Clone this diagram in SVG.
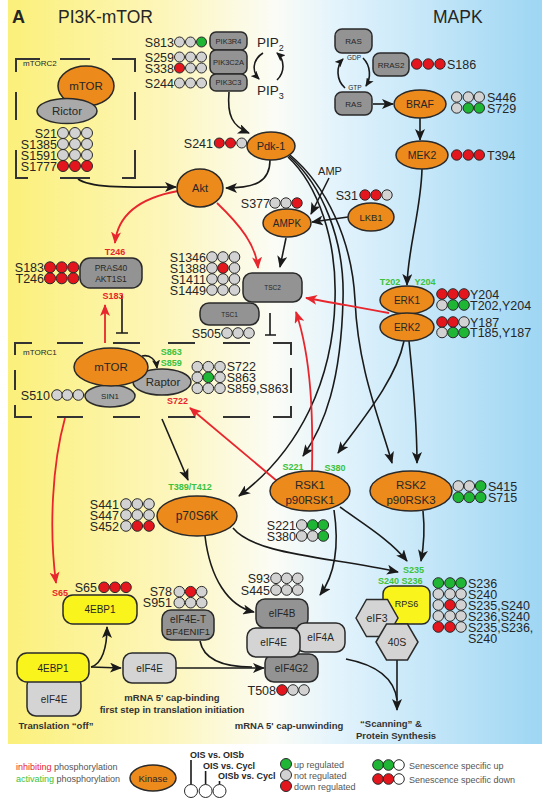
<svg xmlns="http://www.w3.org/2000/svg" width="547" height="798" viewBox="0 0 547 798">
<defs>
<linearGradient id="bg" x1="0" y1="0" x2="1" y2="0">
<stop offset="0" stop-color="#fbf07a"/>
<stop offset="0.3" stop-color="#fdf6bc"/>
<stop offset="0.5" stop-color="#fbfcf6"/>
<stop offset="0.62" stop-color="#e2f3fc"/>
<stop offset="1" stop-color="#9ed6f3"/>
</linearGradient>
<marker id="ab" viewBox="0 0 12 10" refX="11" refY="5" markerWidth="12" markerHeight="10" markerUnits="userSpaceOnUse" orient="auto"><path d="M0,0 L12,5 L0,10 L3,5 z" fill="#1a1a1a"/></marker>
<marker id="ar" viewBox="0 0 12 10" refX="11" refY="5" markerWidth="12" markerHeight="10" markerUnits="userSpaceOnUse" orient="auto"><path d="M0,0 L12,5 L0,10 L3,5 z" fill="#e8262d"/></marker>
<marker id="as" viewBox="0 0 9 8" refX="8" refY="4" markerWidth="9" markerHeight="8" markerUnits="userSpaceOnUse" orient="auto"><path d="M0,0 L9,4 L0,8 L2,4 z" fill="#1a1a1a"/></marker>
</defs>
<style>
text{font-family:"Liberation Sans",Arial,Helvetica,sans-serif;fill:#262626}
.n{text-anchor:middle}
.e{text-anchor:end}
.s{font-size:12.5px}
.k{fill:#ec8a1c;stroke:#2a2a2a;stroke-width:1.5}
.g{fill:#939393;stroke:#2a2a2a;stroke-width:1.5}
.m{fill:#a9a9a9;stroke:#2a2a2a;stroke-width:1.5}
.l{fill:#d4d4d4;stroke:#2a2a2a;stroke-width:1.5}
.y{fill:#f9f41c;stroke:#2a2a2a;stroke-width:1.5}
.c0,.c1,.c2,.c3{stroke:#2a2a2a;stroke-width:1}
.c0{fill:#d2d2d2}.c1{fill:#e3161e}.c2{fill:#1fb535}.c3{fill:#fff}
.gl{fill:#3cc23c;font-weight:bold;font-size:9px}
.rl{fill:#e8262d;font-weight:bold;font-size:9px}
.ln{fill:none;stroke:#1a1a1a;stroke-width:1.6}
.rd{fill:none;stroke:#e8262d;stroke-width:1.8}
.bx{fill:none;stroke:#333;stroke-width:2}
.lt{font-size:9px;fill:#555}
.bt{font-size:9.5px;font-weight:bold;text-anchor:middle;fill:#333}
</style>
<rect x="8" y="0" width="534" height="744" fill="url(#bg)"/>
<text x="12" y="23" font-weight="bold" font-size="18">A</text>
<text x="58" y="23" font-size="17.5">PI3K-mTOR</text>
<text x="433" y="23" font-size="17.5">MAPK</text>

<g id="connectors">
<path class="ln" marker-end="url(#ab)" d="M229,92 C227,115 232,126 249,133"/>
<path class="ln" marker-end="url(#as)" d="M263,53 C252,60 252,72 259,79"/>
<path class="ln" marker-end="url(#as)" d="M277,80 C285,72 285,60 277,53"/>
<path class="ln" marker-end="url(#as)" d="M345,88 C336,80 336,66 343,59"/>
<path class="ln" marker-end="url(#as)" d="M363,58 C371,66 371,78 366,86"/>
<path class="ln" marker-end="url(#ab)" d="M78,179 C92,189 135,187 176,187"/>
<path class="ln" marker-end="url(#ab)" d="M270,160 C270,182 255,188 226,188"/>
<path class="ln" marker-end="url(#ab)" d="M288,157 C318,185 337,240 335,300 C333,380 300,450 239,496"/>
<path class="ln" marker-end="url(#ab)" d="M289,156 C322,185 345,240 343,300 C341,380 325,425 303,456"/>
<path class="ln" marker-end="url(#ab)" d="M290,155 C326,185 352,240 355,300 C358,370 380,420 392,463"/>
<path class="ln" marker-end="url(#ab)" d="M329,178 L311,214"/>
<path class="ln" marker-end="url(#ab)" d="M348,217 L312,222"/>
<path class="ln" marker-end="url(#ab)" d="M286,238 L280,267"/>
<path class="ln" marker-end="url(#ab)" d="M373,104 L393,104"/>
<path class="ln" marker-end="url(#ab)" d="M420,118 L420,140"/>
<path class="ln" marker-end="url(#ab)" d="M422,169 C421,210 408,248 407,285"/>
<path class="ln" marker-end="url(#ab)" d="M404,341 C396,380 362,420 338,453"/>
<path class="ln" marker-end="url(#ab)" d="M409,341 C413,380 417,420 417,463"/>
<path class="ln" marker-end="url(#ab)" d="M162,419 L188,480"/>
<path class="ln" marker-end="url(#as)" d="M142,356 C150,354 156,360 157,368"/>
<path class="ln" marker-end="url(#ab)" d="M205,536 C210,578 228,606 254,612"/>
<path class="ln" marker-end="url(#ab)" d="M233,528 C255,555 330,557 398,572"/>
<path class="ln" marker-end="url(#ab)" d="M334,510 C340,550 334,576 320,595"/>
<path class="ln" marker-end="url(#ab)" d="M340,507 C365,525 390,540 407,561"/>
<path class="ln" marker-end="url(#ab)" d="M423,511 C425,530 424,545 421,561"/>
<path class="ln" marker-end="url(#ab)" d="M91,667 L121,668"/>
<path class="ln" marker-end="url(#ab)" d="M91,667 C102,664 107,648 107,627"/>
<path class="ln" marker-end="url(#ab)" d="M176,668 L264,668"/>
<path class="ln" d="M200,641 C204,662 228,667 252,667"/>
<path class="ln" marker-end="url(#ab)" d="M397,660 L397,710"/>
<path class="ln" d="M346,659 C372,664 394,676 397,700"/>
<path class="ln" d="M122,295 V333 M116,333 H128"/>
<path class="ln" d="M270,313 V335 M265,335 H276"/>
<path class="rd" marker-end="url(#ar)" d="M178,191 C145,197 118,212 115,243"/>
<path class="rd" marker-end="url(#ar)" d="M217,203 C240,225 256,245 258,268"/>
<path class="rd" marker-end="url(#ar)" d="M105,343 L105,305"/>
<path class="rd" marker-end="url(#ar)" d="M389,313 C360,308 330,302 306,298"/>
<path class="rd" marker-end="url(#ar)" d="M312,472 C313,420 312,360 296,312"/>
<path class="rd" marker-end="url(#ar)" d="M277,481 L190,408"/>
<path class="rd" marker-end="url(#ar)" d="M65,418 C52,465 49,530 56,583"/>
</g>

<g id="mTORC2">
<path class="bx" d="M16,72 V59 H40 M60,59 H90 M112,59 H135 V72 M135,92 V120 M135,150 V178 H122 M90,178 H60 M28,178 H16 V150 M16,92 V120"/>
<text x="23" y="66" font-size="8">mTORC2</text>
<ellipse class="k" cx="86" cy="86" rx="28" ry="20"/>
<text class="n" x="86" y="90" font-size="11.5">mTOR</text>
<ellipse class="m" cx="67" cy="111" rx="30" ry="12.5"/>
<text class="n" x="67" y="115" font-size="11.5">Rictor</text>
<text class="s e" x="57" y="137.5">S21</text>
<text class="s e" x="57" y="148.5">S1385</text>
<text class="s e" x="57" y="159.5">S1591</text>
<text class="s e" x="57" y="170.5">S1777</text>
<circle class="c0" cx="63" cy="133" r="5.5"/><circle class="c0" cx="75" cy="133" r="5.5"/><circle class="c0" cx="87" cy="133" r="5.5"/>
<circle class="c0" cx="63" cy="144" r="5.5"/><circle class="c0" cx="75" cy="144" r="5.5"/><circle class="c0" cx="87" cy="144" r="5.5"/>
<circle class="c0" cx="63" cy="155" r="5.5"/><circle class="c0" cx="75" cy="155" r="5.5"/><circle class="c0" cx="87" cy="155" r="5.5"/>
<circle class="c1" cx="63" cy="166" r="5.5"/><circle class="c1" cx="75" cy="166" r="5.5"/><circle class="c1" cx="87" cy="166" r="5.5"/>
</g>

<g id="PI3K">
<rect class="g" x="210" y="32" width="37" height="18" rx="6"/>
<rect class="g" x="210" y="50" width="37" height="24" rx="6"/>
<rect class="g" x="210" y="74" width="37" height="17" rx="6"/>
<text class="n" x="228.5" y="44" font-size="7.5">PIK3R4</text>
<text class="n" x="228.5" y="65" font-size="7.5">PIK3C2A</text>
<text class="n" x="228.5" y="85" font-size="7.5">PIK3C3</text>
<text class="s e" x="174" y="46.5">S813</text>
<text class="s e" x="174" y="61.5">S259</text>
<text class="s e" x="174" y="72.5">S338</text>
<text class="s e" x="174" y="87.5">S244</text>
<circle class="c0" cx="179.5" cy="42" r="5"/><circle class="c0" cx="190.5" cy="42" r="5"/><circle class="c2" cx="201.5" cy="42" r="5"/>
<circle class="c0" cx="179.5" cy="57" r="5"/><circle class="c0" cx="190.5" cy="57" r="5"/><circle class="c0" cx="201.5" cy="57" r="5"/>
<circle class="c1" cx="179.5" cy="68" r="5"/><circle class="c0" cx="190.5" cy="68" r="5"/><circle class="c0" cx="201.5" cy="68" r="5"/>
<circle class="c0" cx="179.5" cy="83" r="5"/><circle class="c0" cx="190.5" cy="83" r="5"/><circle class="c0" cx="201.5" cy="83" r="5"/>
</g>
<g id="PIP">
<text x="257" y="47" font-size="13.5">PIP<tspan font-size="9" dy="4">2</tspan></text>
<text x="257" y="95" font-size="13.5">PIP<tspan font-size="9" dy="4">3</tspan></text>
</g>

<g id="Pdk1">
<ellipse class="k" cx="271" cy="146" rx="24" ry="14"/>
<text class="n" x="271" y="150" font-size="11">Pdk-1</text>
<text class="s e" x="213" y="147.5">S241</text>
<circle class="c1" cx="219.3" cy="143" r="5"/><circle class="c1" cx="230.5" cy="143" r="5"/><circle class="c0" cx="241.7" cy="143" r="5"/>
</g>

<g id="RAS">
<rect class="g" x="335" y="29" width="37" height="24" rx="7"/>
<text class="n" x="353.5" y="44" font-size="8">RAS</text>
<rect class="g" x="335" y="92" width="37" height="23" rx="7"/>
<text class="n" x="353.5" y="106.5" font-size="8">RAS</text>
<text class="n" x="354" y="60" font-size="6.5">GDP</text>
<text class="n" x="355" y="89.5" font-size="6.5">GTP</text>
</g>
<g id="RRAS2">
<rect class="g" x="373" y="53" width="36" height="23" rx="7"/>
<text class="n" x="391" y="67.5" font-size="8">RRAS2</text>
<circle class="c1" cx="416.7" cy="64" r="5.2"/><circle class="c1" cx="428.3" cy="64" r="5.2"/><circle class="c1" cx="440" cy="64" r="5.2"/>
<text class="s" x="447" y="68.5">S186</text>
</g>
<g id="BRAF">
<ellipse class="k" cx="420" cy="104" rx="26" ry="14"/>
<text class="n" x="420" y="108" font-size="10.5">BRAF</text>
<circle class="c0" cx="456.7" cy="97" r="5.2"/><circle class="c0" cx="468.3" cy="97" r="5.2"/><circle class="c0" cx="479.3" cy="97" r="5.2"/>
<circle class="c0" cx="456.7" cy="108" r="5.2"/><circle class="c2" cx="468.3" cy="108" r="5.2"/><circle class="c2" cx="479.3" cy="108" r="5.2"/>
<text class="s" x="487" y="101.5">S446</text>
<text class="s" x="487" y="112.5">S729</text>
</g>
<g id="MEK2">
<ellipse class="k" cx="422" cy="155" rx="26" ry="14"/>
<text class="n" x="422" y="159" font-size="10.5">MEK2</text>
<circle class="c1" cx="456.7" cy="155" r="5.2"/><circle class="c1" cx="468.3" cy="155" r="5.2"/><circle class="c1" cx="479.3" cy="155" r="5.2"/>
<text class="s" x="487" y="159.5">T394</text>
</g>

<g id="Akt">
<ellipse class="k" cx="200" cy="188" rx="23" ry="19"/>
<text class="n" x="200" y="192" font-size="11">Akt</text>
</g>
<g id="AMPK">
<text class="n" x="330" y="175" font-size="11">AMP</text>
<ellipse class="k" cx="287" cy="223" rx="24" ry="14"/>
<text class="n" x="287" y="226.5" font-size="10">AMPK</text>
<text class="s e" x="270" y="207.5">S377</text>
<circle class="c0" cx="275" cy="203" r="5.2"/><circle class="c0" cx="286" cy="203" r="5.2"/><circle class="c1" cx="297" cy="203" r="5.2"/>
</g>
<g id="LKB1">
<ellipse class="k" cx="371" cy="217" rx="23" ry="14"/>
<text class="n" x="371" y="220.5" font-size="9.5">LKB1</text>
<text class="s e" x="358" y="199.5">S31</text>
<circle class="c1" cx="365" cy="195" r="5.2"/><circle class="c1" cx="376" cy="195" r="5.2"/><circle class="c0" cx="387" cy="195" r="5.2"/>
</g>

<g id="PRAS40">
<rect class="g" x="80" y="258" width="62" height="30" rx="10"/>
<text class="n" x="111" y="271" font-size="8.5">PRAS40</text>
<text class="n" x="111" y="282" font-size="8.5">AKT1S1</text>
<text class="rl n" x="115" y="255">T246</text>
<text class="rl n" x="113" y="299">S183</text>
<text class="s e" x="44" y="271.5">S183</text>
<text class="s e" x="44" y="282.5">T246</text>
<circle class="c1" cx="50" cy="267.3" r="5.5"/><circle class="c1" cx="61.7" cy="267.3" r="5.5"/><circle class="c1" cx="73.3" cy="267.3" r="5.5"/>
<circle class="c1" cx="50" cy="278.3" r="5.5"/><circle class="c1" cx="61.7" cy="278.3" r="5.5"/><circle class="c1" cx="73.3" cy="278.3" r="5.5"/>
</g>

<g id="TSC">
<rect class="g" x="243" y="273" width="59" height="29" rx="9"/>
<text class="n" x="272.5" y="289.5" font-size="6.5">TSC2</text>
<rect class="g" x="200" y="303" width="59" height="22" rx="9"/>
<text class="n" x="229.5" y="316.5" font-size="6.5">TSC1</text>
<text class="s e" x="206" y="261.5">S1346</text>
<text class="s e" x="206" y="272.5">S1388</text>
<text class="s e" x="206" y="283.5">S1411</text>
<text class="s e" x="206" y="294.5">S1449</text>
<circle class="c0" cx="212" cy="257" r="5.3"/><circle class="c0" cx="223" cy="257" r="5.3"/><circle class="c0" cx="234.5" cy="257" r="5.3"/>
<circle class="c0" cx="212" cy="268" r="5.3"/><circle class="c1" cx="223" cy="268" r="5.3"/><circle class="c0" cx="234.5" cy="268" r="5.3"/>
<circle class="c0" cx="212" cy="279" r="5.3"/><circle class="c0" cx="223" cy="279" r="5.3"/><circle class="c0" cx="234.5" cy="279" r="5.3"/>
<circle class="c0" cx="212" cy="290" r="5.3"/><circle class="c0" cx="223" cy="290" r="5.3"/><circle class="c0" cx="234.5" cy="290" r="5.3"/>
<text class="s e" x="221" y="337.5">S505</text>
<circle class="c0" cx="227" cy="333" r="5.3"/><circle class="c0" cx="238" cy="333" r="5.3"/><circle class="c0" cx="249" cy="333" r="5.3"/>
</g>

<g id="ERK">
<ellipse class="k" cx="407" cy="300" rx="27" ry="14"/>
<ellipse class="k" cx="407" cy="327" rx="27" ry="14"/>
<text class="n" x="407" y="303.5" font-size="10">ERK1</text>
<text class="n" x="407" y="330.5" font-size="10">ERK2</text>
<text class="gl n" x="390" y="285">T202</text>
<text class="gl n" x="425" y="285">Y204</text>
<circle class="c1" cx="442" cy="294" r="5.3"/><circle class="c1" cx="453" cy="294" r="5.3"/><circle class="c1" cx="464" cy="294" r="5.3"/>
<circle class="c0" cx="442" cy="305" r="5.3"/><circle class="c2" cx="453" cy="305" r="5.3"/><circle class="c2" cx="464" cy="305" r="5.3"/>
<circle class="c1" cx="442" cy="322" r="5.3"/><circle class="c1" cx="453" cy="322" r="5.3"/><circle class="c0" cx="464" cy="322" r="5.3"/>
<circle class="c0" cx="442" cy="332.5" r="5.3"/><circle class="c2" cx="453" cy="332.5" r="5.3"/><circle class="c2" cx="464" cy="332.5" r="5.3"/>
<text class="s" x="470" y="298.5">Y204</text>
<text class="s" x="470" y="309.5">T202,Y204</text>
<text class="s" x="470" y="326.5">Y187</text>
<text class="s" x="470" y="337">T185,Y187</text>
</g>

<g id="mTORC1">
<path class="bx" d="M15,355 V343 H32 M57,343 H83 M113,343 H140 M168,343 H195 M223,343 H250 M273,343 H291 V355 M291,368 V393 M291,406 V417 H273 M250,417 H223 M195,417 H168 M140,417 H113 M83,417 H57 M32,417 H15 V405 M15,370 V390"/>
<text x="23" y="355" font-size="8">mTORC1</text>
<ellipse class="m" cx="110" cy="396" rx="25" ry="11"/>
<ellipse class="m" cx="162" cy="382" rx="29" ry="13"/>
<ellipse class="k" cx="111" cy="367" rx="37" ry="19"/>
<text class="n" x="111" y="371" font-size="11.5">mTOR</text>
<text class="n" x="110" y="399" font-size="8">SIN1</text>
<text class="n" x="163" y="386" font-size="11.5">Raptor</text>
<text class="gl" x="160.7" y="355">S863</text>
<text class="gl" x="160.7" y="366">S859</text>
<text class="rl" x="167" y="404">S722</text>
<circle class="c0" cx="197.3" cy="366.7" r="5.3"/><circle class="c0" cx="208.3" cy="366.7" r="5.3"/><circle class="c0" cx="220" cy="366.7" r="5.3"/>
<circle class="c0" cx="197.3" cy="377.3" r="5.3"/><circle class="c2" cx="208.3" cy="377.3" r="5.3"/><circle class="c0" cx="220" cy="377.3" r="5.3"/>
<circle class="c0" cx="197.3" cy="388.3" r="5.3"/><circle class="c0" cx="208.3" cy="388.3" r="5.3"/><circle class="c0" cx="220" cy="388.3" r="5.3"/>
<text class="s" x="226.7" y="371">S722</text>
<text class="s" x="226.7" y="381.5">S863</text>
<text class="s" x="226.7" y="392.5">S859,S863</text>
<text class="s e" x="50" y="399.5">S510</text>
<circle class="c0" cx="57" cy="395" r="5.3"/><circle class="c0" cx="67.3" cy="395" r="5.3"/><circle class="c0" cx="78.3" cy="395" r="5.3"/>
</g>

<g id="p70S6K">
<ellipse class="k" cx="197" cy="516" rx="40" ry="20"/>
<text class="n" x="197" y="520" font-size="12">p70S6K</text>
<text class="gl n" x="190" y="490">T389/T412</text>
<text class="s e" x="119" y="508.5">S441</text>
<text class="s e" x="119" y="519.5">S447</text>
<text class="s e" x="119" y="530.5">S452</text>
<circle class="c0" cx="126" cy="504" r="5.3"/><circle class="c0" cx="137.3" cy="504" r="5.3"/><circle class="c0" cx="149" cy="504" r="5.3"/>
<circle class="c0" cx="126" cy="515" r="5.3"/><circle class="c0" cx="137.3" cy="515" r="5.3"/><circle class="c0" cx="149" cy="515" r="5.3"/>
<circle class="c0" cx="126" cy="526" r="5.3"/><circle class="c1" cx="137.3" cy="526" r="5.3"/><circle class="c1" cx="149" cy="526" r="5.3"/>
</g>

<g id="RSK1">
<ellipse class="k" cx="310" cy="491" rx="40" ry="20"/>
<text class="n" x="310" y="489" font-size="11.5">RSK1</text>
<text class="n" x="310" y="503.5" font-size="11.5">p90RSK1</text>
<text class="gl n" x="293" y="470">S221</text>
<text class="gl n" x="335" y="471">S380</text>
<text class="s e" x="296" y="529.5">S221</text>
<text class="s e" x="296" y="540.5">S380</text>
<circle class="c0" cx="301.7" cy="525" r="5.3"/><circle class="c2" cx="312.7" cy="525" r="5.3"/><circle class="c2" cx="323.3" cy="525" r="5.3"/>
<circle class="c0" cx="301.7" cy="536" r="5.3"/><circle class="c0" cx="312.7" cy="536" r="5.3"/><circle class="c2" cx="323.3" cy="536" r="5.3"/>
</g>
<g id="RSK2">
<ellipse class="k" cx="411" cy="491" rx="41" ry="20"/>
<text class="n" x="411" y="489" font-size="11.5">RSK2</text>
<text class="n" x="411" y="503.5" font-size="11.5">p90RSK3</text>
<circle class="c0" cx="458.3" cy="486" r="5.3"/><circle class="c0" cx="469.3" cy="486" r="5.3"/><circle class="c2" cx="480.7" cy="486" r="5.3"/>
<circle class="c2" cx="458.3" cy="497.3" r="5.3"/><circle class="c2" cx="469.3" cy="497.3" r="5.3"/><circle class="c2" cx="480.7" cy="497.3" r="5.3"/>
<text class="s" x="488" y="490.5">S415</text>
<text class="s" x="488" y="501.5">S715</text>
</g>

<g id="FourEBP1">
<rect class="y" x="63" y="595" width="74" height="29" rx="10"/>
<text class="n" x="100" y="613" font-size="10">4EBP1</text>
<text class="rl" x="52" y="596">S65</text>
<text class="s e" x="97" y="591.5">S65</text>
<circle class="c1" cx="104" cy="587.3" r="5.3"/><circle class="c1" cx="115" cy="587.3" r="5.3"/><circle class="c1" cx="126" cy="587.3" r="5.3"/>
</g>
<g id="eIF4ET">
<rect class="g" x="162" y="610" width="52" height="30" rx="9"/>
<text class="n" x="188" y="622.5" font-size="10">eIF4E-T</text>
<text class="n" x="188" y="635" font-size="9.5">BF4ENIF1</text>
<text class="s e" x="172" y="596">S78</text>
<text class="s e" x="172" y="607">S951</text>
<circle class="c0" cx="179.3" cy="591.7" r="5.3"/><circle class="c1" cx="190.7" cy="591.7" r="5.3"/><circle class="c0" cx="201.7" cy="591.7" r="5.3"/>
<circle class="c0" cx="179.3" cy="602.7" r="5.3"/><circle class="c0" cx="190.7" cy="602.7" r="5.3"/><circle class="c0" cx="201.7" cy="602.7" r="5.3"/>
</g>
<g id="off-complex">
<rect class="l" x="27" y="676" width="54" height="40" rx="9"/>
<text class="n" x="54" y="703" font-size="10">eIF4E</text>
<rect class="y" x="17" y="653" width="72" height="29" rx="10"/>
<text class="n" x="53" y="671.5" font-size="10">4EBP1</text>
</g>
<g id="eIF4E-free">
<rect class="l" x="123" y="653" width="53" height="30" rx="9"/>
<text class="n" x="149.5" y="671.5" font-size="10">eIF4E</text>
</g>

<g id="eIF4F">
<rect class="g" x="256" y="599" width="52" height="29" rx="9"/>
<rect class="g" x="265" y="654" width="53" height="28" rx="9"/>
<rect class="l" x="296" y="623" width="49" height="29" rx="9"/>
<rect class="l" x="247" y="628" width="53" height="29" rx="9"/>
<text class="n" x="282" y="617" font-size="10">eIF4B</text>
<text class="n" x="320.5" y="641" font-size="10">eIF4A</text>
<text class="n" x="273.5" y="646" font-size="10">eIF4E</text>
<text class="n" x="291.5" y="672" font-size="10">eIF4G2</text>
<text class="s e" x="270" y="582.5">S93</text>
<text class="s e" x="270" y="594.5">S445</text>
<circle class="c0" cx="276" cy="578.3" r="5.3"/><circle class="c0" cx="286.7" cy="578.3" r="5.3"/><circle class="c0" cx="297.7" cy="578.3" r="5.3"/>
<circle class="c0" cx="276" cy="590" r="5.3"/><circle class="c0" cx="286.7" cy="590" r="5.3"/><circle class="c0" cx="297.7" cy="590" r="5.3"/>
<text class="s e" x="276" y="694.5">T508</text>
<circle class="c1" cx="282" cy="690" r="5.3"/><circle class="c0" cx="293" cy="690" r="5.3"/><circle class="c0" cx="304" cy="690" r="5.3"/>
</g>

<g id="RPS6">
<rect class="y" x="383" y="586" width="47" height="38" rx="8"/>
<text class="n" x="406.5" y="607" font-size="9">RPS6</text>
<polygon class="l" points="356,618 366.5,599.5 387.5,599.5 398,618 387.5,636.5 366.5,636.5"/>
<text class="n" x="377" y="621.5" font-size="10.5">eIF3</text>
<polygon class="l" points="376,642 386.5,624 407.5,624 418,642 407.5,660 386.5,660"/>
<text class="n" x="397" y="645.5" font-size="10.5">40S</text>
<text class="gl" x="403" y="573">S235</text>
<text class="gl" x="378" y="584">S240 S236</text>
<circle class="c2" cx="438.3" cy="583" r="5.3"/><circle class="c2" cx="450" cy="583" r="5.3"/><circle class="c2" cx="461" cy="583" r="5.3"/>
<circle class="c0" cx="438.3" cy="594" r="5.3"/><circle class="c0" cx="450" cy="594" r="5.3"/><circle class="c0" cx="461" cy="594" r="5.3"/>
<circle class="c0" cx="438.3" cy="605" r="5.3"/><circle class="c1" cx="450" cy="605" r="5.3"/><circle class="c0" cx="461" cy="605" r="5.3"/>
<circle class="c0" cx="438.3" cy="616" r="5.3"/><circle class="c0" cx="450" cy="616" r="5.3"/><circle class="c0" cx="461" cy="616" r="5.3"/>
<circle class="c1" cx="438.3" cy="627" r="5.3"/><circle class="c1" cx="450" cy="627" r="5.3"/><circle class="c0" cx="461" cy="627" r="5.3"/>
<text class="s" x="468" y="587.5">S236</text>
<text class="s" x="468" y="598.5">S240</text>
<text class="s" x="468" y="609.5">S235,S240</text>
<text class="s" x="468" y="620.5">S236,S240</text>
<text class="s" x="468" y="631.5">S235,S236,</text>
<text class="s" x="468" y="642.5">S240</text>
</g>

<g id="captions">
<text class="bt" x="56" y="728.5">Translation “off”</text>
<text class="bt" x="172" y="700.5">mRNA 5' cap-binding</text>
<text class="bt" x="172" y="713">first step in translation initiation</text>
<text class="bt" x="289" y="728.5">mRNA 5' cap-unwinding</text>
<text class="bt" x="391" y="727">“Scanning” &amp;</text>
<text class="bt" x="396" y="738.5">Protein Synthesis</text>
</g>

<g id="legend">
<text class="lt" x="16" y="770"><tspan fill="#e8262d">inhibiting</tspan> phosphorylation</text>
<text class="lt" x="16" y="782"><tspan fill="#3cc23c">activating</tspan> phosphorylation</text>
<ellipse class="k" cx="153" cy="778" rx="23" ry="13"/>
<text class="n" x="153" y="781.5" font-size="9.5">Kinase</text>
<text x="190" y="758" font-size="9" font-weight="bold">OIS vs. OISb</text>
<text x="203" y="768.5" font-size="9" font-weight="bold">OIS vs. Cycl</text>
<text x="218" y="779" font-size="9" font-weight="bold">OISb vs. Cycl</text>
<path class="ln" stroke-width="1.2" d="M191,760 V784.5 M205.6,771 V784.5 M219.5,781 V784.5"/>
<circle class="c3" cx="191" cy="791" r="6.5"/><circle class="c3" cx="205.6" cy="791" r="6.5"/><circle class="c3" cx="219.5" cy="791" r="6.5"/>
<circle class="c2" cx="286" cy="764" r="5.5"/>
<circle class="c0" cx="286" cy="775" r="5.5"/>
<circle class="c1" cx="286" cy="786" r="5.5"/>
<text class="lt" x="294" y="767.5">up regulated</text>
<text class="lt" x="294" y="778.5">not regulated</text>
<text class="lt" x="294" y="789.5">down regulated</text>
<circle class="c2" cx="378" cy="765" r="5.3"/><circle class="c2" cx="388.5" cy="765" r="5.3"/><circle class="c3" cx="399" cy="765" r="5.3"/>
<circle class="c1" cx="378" cy="779" r="5.3"/><circle class="c1" cx="388.5" cy="779" r="5.3"/><circle class="c3" cx="399" cy="779" r="5.3"/>
<text class="lt" x="409" y="768.5">Senescence specific up</text>
<text class="lt" x="409" y="782.5">Senescence specific down</text>
</g>
</svg>
